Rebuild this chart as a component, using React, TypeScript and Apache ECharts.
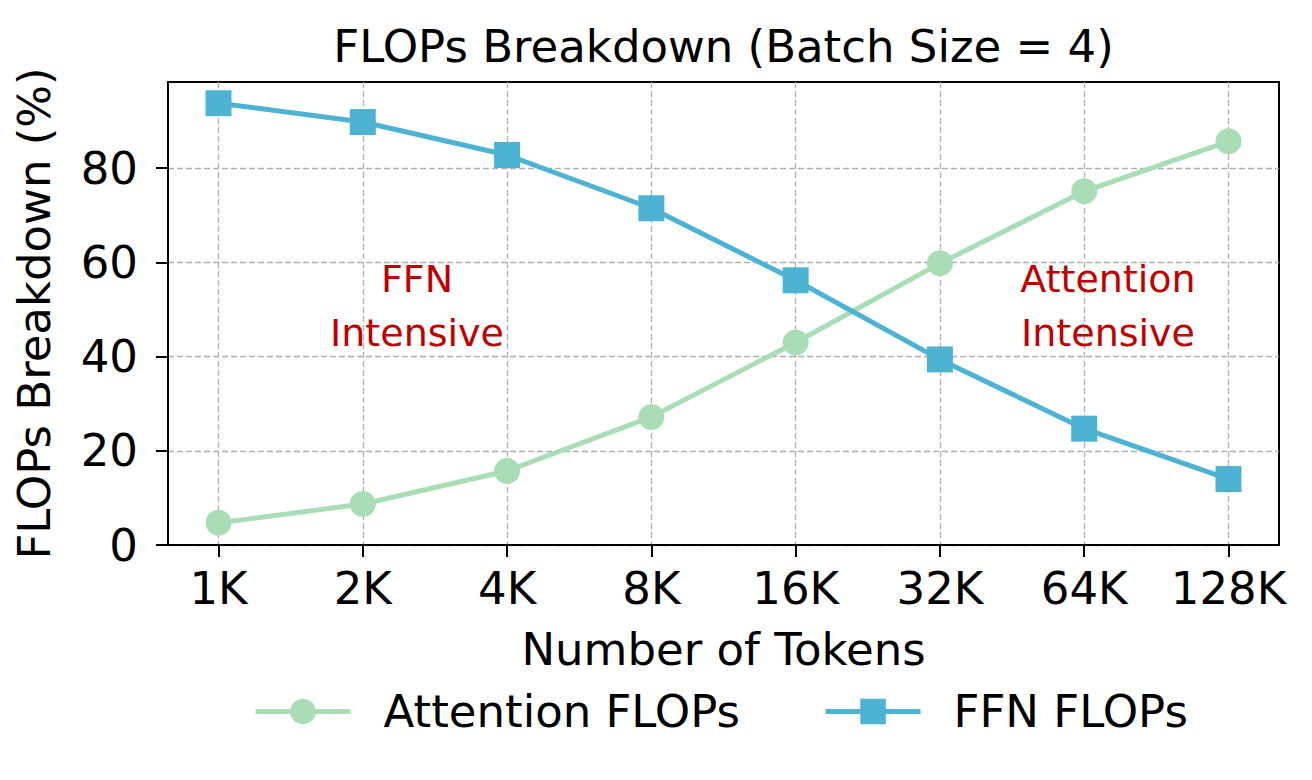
import React, { useEffect, useRef } from "react";
import * as echarts from "echarts";

const categories = ["1K", "2K", "4K", "8K", "16K", "32K", "64K", "128K"];
const attentionFlops = [4.7, 8.7, 15.7, 27.2, 43.0, 59.8, 75.1, 85.7];
const ffnFlops = [93.8, 89.8, 82.8, 71.5, 56.2, 39.4, 24.7, 14.0];
const yTicks = [0, 20, 40, 60, 80];
const xTicks = categories.map((_, i) => i);

const FONT = "'DejaVu Sans', sans-serif";
const GREEN = "#a8ddb5";
const BLUE = "#4eb3d3";

export default function App() {
  const ref = useRef<HTMLDivElement>(null);
  useEffect(() => {
    if (!ref.current) return;
    const chart = echarts.init(ref.current, null, { renderer: "svg" });
    const axisLabelStyle = { color: "#000", fontSize: 45, fontFamily: FONT };
    chart.setOption({
      animation: false,
      backgroundColor: "#fff",
      title: {
        text: "FLOPs Breakdown (Batch Size = 4)",
        left: 723.5,
        top: 24,
        padding: 0,
        textAlign: "center",
        textStyle: { color: "#000", fontSize: 45, fontWeight: "normal", fontFamily: FONT },
      },
      grid: {
        left: 168,
        right: 33,
        top: 82,
        bottom: 235,
        show: true,
        borderColor: "#000",
        borderWidth: 2,
        containLabel: false,
      },
      legend: {
        left: 253,
        top: 689,
        padding: 0,
        itemWidth: 95,
        itemHeight: 32,
        itemGap: 83,
        lineStyle: { width: 5 },
        textStyle: { color: "#000", fontSize: 45, fontFamily: FONT, padding: [0, 0, 0, 28] },
        data: ["Attention FLOPs", "FFN FLOPs"],
      },
      xAxis: {
        type: "value",
        min: -0.35,
        max: 7.35,
        name: "Number of Tokens",
        nameLocation: "middle",
        nameGap: 82,
        nameTextStyle: axisLabelStyle,
        axisLine: { show: true, onZero: false, lineStyle: { color: "#000", width: 2 } },
        axisTick: { show: true, inside: false, length: 12, lineStyle: { color: "#000", width: 2 }, customValues: xTicks },
        axisLabel: {
          ...axisLabelStyle,
          margin: 21,
          customValues: xTicks,
          formatter: (v: number) => categories[Math.round(v)] ?? "",
        },
        splitLine: { show: true, lineStyle: { color: "#b0b0b0", width: 1.3, type: [6, 3] } },
      },
      yAxis: {
        type: "value",
        min: 0,
        max: 98.3,
        name: "FLOPs Breakdown (%)",
        nameLocation: "middle",
        nameGap: 111,
        nameRotate: 90,
        nameTextStyle: axisLabelStyle,
        axisLine: { show: true, onZero: false, lineStyle: { color: "#000", width: 2 } },
        axisTick: { show: true, inside: false, length: 12, lineStyle: { color: "#000", width: 2 }, customValues: yTicks },
        axisLabel: { ...axisLabelStyle, margin: 30, customValues: yTicks },
        splitLine: { show: true, lineStyle: { color: "#b0b0b0", width: 1.3, type: [6, 3] } },
      },
      series: [
        {
          name: "Attention FLOPs",
          type: "line",
          data: attentionFlops.map((v, i) => [i, v]),
          symbol: "circle",
          symbolSize: 26,
          lineStyle: { color: GREEN, width: 5 },
          itemStyle: { color: GREEN },
          z: 3,
        },
        {
          name: "FFN FLOPs",
          type: "line",
          data: ffnFlops.map((v, i) => [i, v]),
          symbol: "rect",
          symbolSize: 26,
          lineStyle: { color: BLUE, width: 5 },
          itemStyle: { color: BLUE },
          z: 4,
        },
      ],
      graphic: [
        {
          type: "text",
          x: 417,
          y: 306,
          z: 10,
          style: {
            text: "FFN\nIntensive",
            textAlign: "center",
            textVerticalAlign: "middle",
            lineHeight: 54,
            fill: "#c00000",
            fontSize: 38,
            fontFamily: FONT,
          },
        },
        {
          type: "text",
          x: 1108,
          y: 306,
          z: 10,
          style: {
            text: "Attention\nIntensive",
            textAlign: "center",
            textVerticalAlign: "middle",
            lineHeight: 54,
            fill: "#c00000",
            fontSize: 38,
            fontFamily: FONT,
          },
        },
      ],
    });
    return () => chart.dispose();
  }, []);
  return <div ref={ref} style={{ width: 1312, height: 780, position: "absolute", left: 0, top: 0 }} />;
}
